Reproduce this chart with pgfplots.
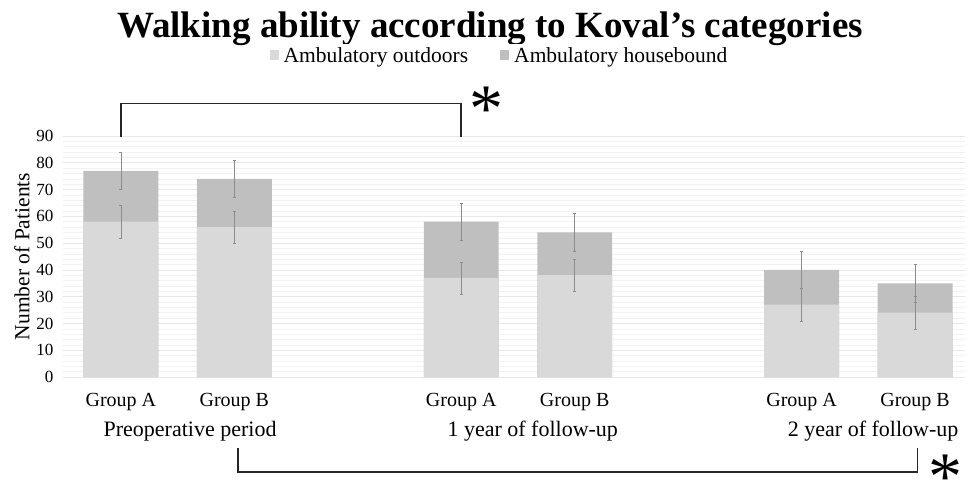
\documentclass[border=0pt]{standalone}
\usepackage{fontspec}
\setmainfont{Liberation Serif}
\usepackage{pgfplots}
\usepackage{pgfplotstable}
\pgfplotsset{compat=1.18}

\definecolor{outdoor}{RGB}{217,217,217}
\definecolor{house}{RGB}{191,191,191}
\definecolor{errgrey}{RGB}{140,140,140}

% pos = category position, out/house = patients, eo/et = error of outdoor / total
\pgfplotstableread{
pos out house eo et
0 58 19 6 7
1 56 18 6 7
3 37 21 6 7
4 38 16 6 7
6 27 13 6 7
7 24 11 6 7
}\walk

\begin{document}
\begin{tikzpicture}[x=1pt,y=1pt]
\useasboundingbox (0,0) rectangle (976,480);

\node[font=\fontsize{37}{37}\selectfont\bfseries] at (490,451) {Walking ability according to Koval’s categories};

\begin{axis}[
    at={(63pt,103pt)}, anchor=south west,
    scale only axis, width=902pt, height=241pt,
    xmin=-0.51, xmax=7.44, ymin=0, ymax=90,
    ytick={0,10,...,90},
    minor y tick num=4,
    ymajorgrids, yminorgrids,
    major grid style={color=black!9, line width=0.6pt},
    minor grid style={color=black!5, line width=0.5pt},
    xtick={0,1,3,4,6,7},
    xticklabels={Group A,Group B,Group A,Group B,Group A,Group B},
    axis line style={draw=none},
    major tick length=0pt, minor tick length=0pt,
    /pgf/number format/assume math mode=true,
    yticklabel style={font=\fontsize{17}{17}\selectfont, xshift=-6pt},
    xticklabel style={font=\fontsize{20}{20}\selectfont, yshift=-13pt},
    ylabel={Number of Patients},
    ylabel style={font=\fontsize{21.5}{21.5}\selectfont, yshift=0pt},
    clip=false,
    legend columns=2,
    legend style={at={(0.484,1.333)}, anchor=center, draw=none,
        font=\fontsize{21.5}{21.5}\selectfont,
        /tikz/every even column/.append style={column sep=30pt}},
    legend image code/.code={\fill[#1] (0pt,-4pt) rectangle (9pt,6pt);},
]
\addlegendimage{fill=outdoor, draw=none}
\addlegendentry{\hspace{3pt}Ambulatory outdoors}
\addlegendimage{fill=house, draw=none}
\addlegendentry{\hspace{3pt}Ambulatory housebound}

% total bar (housebound on top), then outdoor bar over it
\addplot[ybar, bar width=0.66, bar shift=0pt, fill=house, draw=none, forget plot]
    table[x=pos, y expr=\thisrow{out}+\thisrow{house}] {\walk};
\addplot[ybar, bar width=0.66, bar shift=0pt, fill=outdoor, draw=none, forget plot]
    table[x=pos, y=out] {\walk};

% error bars
\addplot[draw=none, no markers, forget plot,
    error bars/.cd, y dir=both, y explicit,
    error bar style={errgrey, line width=0.6pt},
    error mark options={errgrey, mark size=1.5pt, line width=0.5pt, rotate=90}]
    table[x=pos, y=out, y error=eo] {\walk};
\addplot[draw=none, no markers, forget plot,
    error bars/.cd, y dir=both, y explicit,
    error bar style={errgrey, line width=0.6pt},
    error mark options={errgrey, mark size=1.5pt, line width=0.5pt, rotate=90}]
    table[x=pos, y expr=\thisrow{out}+\thisrow{house}, y error=et] {\walk};

% period labels
\node[font=\fontsize{22}{22}\selectfont] at (axis cs:0.61,-20.3) {Preoperative period};
\node[font=\fontsize{22}{22}\selectfont] at (axis cs:3.63,-20.3) {1 year of follow-up};
\node[font=\fontsize{22}{22}\selectfont] at (axis cs:6.63,-20.3) {2 year of follow-up};

% significance brackets
\draw[line width=1.6pt, black!85] (axis cs:0,89.6) |- (axis cs:3,102.2) -- (axis cs:3,89.6);
\node[font=\fontsize{68}{68}\selectfont] at (axis cs:3.22,100.1) {*};
\draw[line width=1.6pt, black!85] (axis cs:1.03,-26.5) |- (axis cs:7.02,-35.4) -- (axis cs:7.02,-26.5);
\node[font=\fontsize{68}{68}\selectfont] at (axis cs:7.27,-37.6) {*};
\end{axis}
\end{tikzpicture}
\end{document}
